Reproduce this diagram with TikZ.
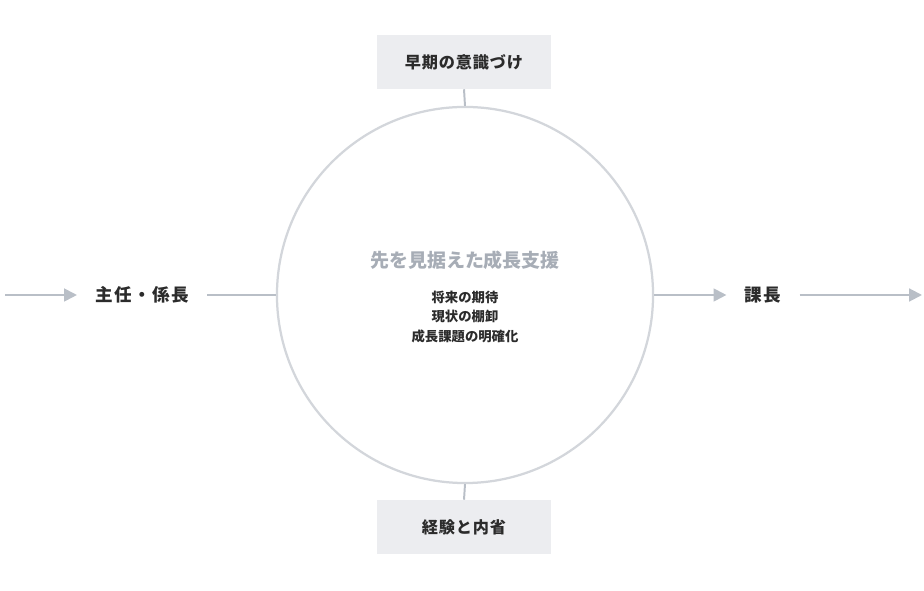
\documentclass[tikz,border=0pt]{standalone}
\usepackage{fontspec}
\setmainfont{Noto Sans CJK JP}
\usepackage{xcolor}
\usepackage{tikz}
\usetikzlibrary{arrows.meta,positioning}
\definecolor{inkdark}{HTML}{2B2B2B}
\definecolor{ringgray}{HTML}{D3D6DB}
\definecolor{linegray}{HTML}{B9BFC7}
\definecolor{titlegray}{HTML}{A7ADB6}
\definecolor{boxfill}{HTML}{ECEDF0}
\tikzset{
  stagebox/.style={fill=boxfill,minimum width=4.35cm,minimum height=1.35cm,
                   inner sep=0pt,text=inkdark,
                   font=\fontsize{11.5}{13}\selectfont\bfseries\addfontfeatures{LetterSpace=5}},
  rolelabel/.style={inner xsep=0.45cm,text=inkdark,
                   font=\fontsize{12.5}{14}\selectfont\bfseries\addfontfeatures{LetterSpace=8}},
  ring/.style     ={circle,draw=ringgray,line width=1.6pt,minimum size=9.4cm,inner sep=0pt},
  link/.style     ={draw=linegray,line width=1.4pt},
  flow/.style     ={-{Triangle[length=3.2mm,width=3.2mm]},draw=linegray,line width=1.4pt}
}
\begin{document}
\begin{tikzpicture}[x=0.025cm,y=0.025cm]
  \useasboundingbox (0,0) rectangle (924,590);
  \node[ring] (circ) at (465,295) {};
  \node[stagebox] (early) at (464,528) {早期の意識づけ};
  \node[stagebox] (reflect) at (464,63) {経験と内省};
  \node[rolelabel] (chief) at (142,295) {主任・係長};
  \node[rolelabel] (manager) at (763,295) {課長};
  \coordinate (start) at (5,295);
  \coordinate (finish) at (922,295);
  \node[text=titlegray,font=\fontsize{13.5}{16}\selectfont\bfseries] (theme) at (465,330)
    {先を見据えた成長支援};
  \node[align=center,text=inkdark,font=\fontsize{9.5}{14.2}\selectfont\bfseries] (points)
    at (465,273) {将来の期待\\現状の棚卸\\成長課題の明確化};
  % connectors
  \draw[link] (early.south) -- (circ.north);
  \draw[link] (reflect.north) -- (circ.south);
  \draw[flow] (start) -- (chief.west);
  \draw[link] (chief.east) -- (circ.west);
  \draw[flow] (circ.east) -- (manager.west);
  \draw[flow] (manager.east) -- (finish);
\end{tikzpicture}
\end{document}
